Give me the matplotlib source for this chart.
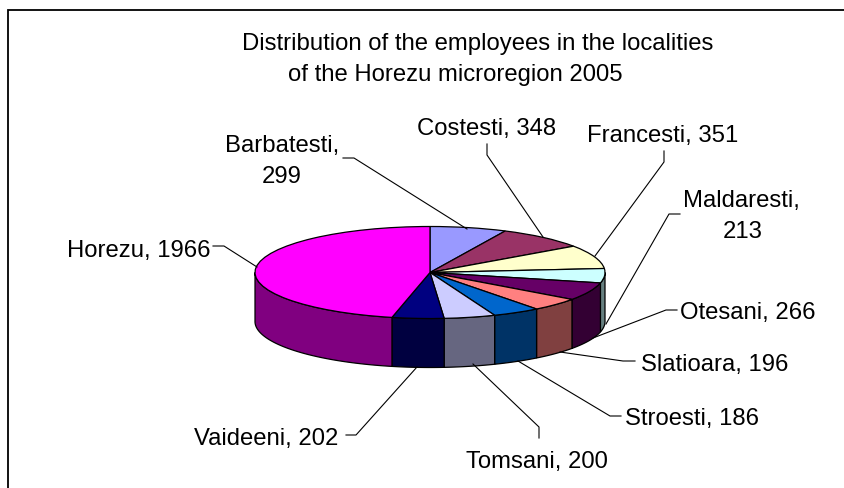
import numpy as np
import matplotlib
matplotlib.use("Agg")
import matplotlib.pyplot as plt

plt.rcParams['font.family'] = ['Liberation Sans', 'DejaVu Sans']

names = ["Barbatesti", "Costesti", "Francesti", "Maldaresti", "Otesani",
         "Slatioara", "Stroesti", "Tomsani", "Vaideeni", "Horezu"]
values = [299, 348, 351, 213, 266, 196, 186, 200, 202, 1966]
top_colors = ["#9999FF", "#993366", "#FFFFCC", "#CCFFFF", "#660066",
              "#FF8080", "#0066CC", "#CCCCFF", "#000080", "#FF00FF"]
side_colors = ["#4C4C80", "#4C1933", "#808066", "#668080", "#330033",
               "#804040", "#003366", "#666680", "#000040", "#800080"]
title_lines = ["Distribution of the employees in the localities",
               "of the Horezu microregion 2005"]

W, H = 844, 489
CX, CY, RX, RY, DEPTH = 430, 273.5, 175, 46, 49
FS = 17.2

fig = plt.figure(figsize=(W / 100, H / 100), dpi=100, facecolor="white")

# pie axes: unit disc in data coordinates, squashed by the axes limits
ax = fig.add_axes([0, 0, 1, 1])
ax.pie(values, colors=top_colors, startangle=90, counterclock=False, radius=1,
       wedgeprops=dict(edgecolor="black", linewidth=0.9))
ax.set_aspect("auto")
ax.set_xlim(-CX / RX, (W - CX) / RX)
ax.set_ylim(-(H - CY) / RY, CY / RY)

# side walls of the front half, from the same values
edges = np.cumsum([0] + values) / sum(values) * 360
d = DEPTH / RY
for i in range(len(values)):
    a0, a1 = max(edges[i], 90), min(edges[i + 1], 270)
    if a1 <= a0:
        continue
    t = np.radians(np.linspace(a0, a1, 80))
    x, y = np.sin(t), np.cos(t)
    ax.fill(np.r_[x, x[::-1]], np.r_[y, y[::-1] - d], facecolor=side_colors[i],
            edgecolor="black", linewidth=0.9, zorder=0.5)

# overlay in pixel coordinates for frame, labels and leader lines
ov = fig.add_axes([0, 0, 1, 1], facecolor="none")
ov.set_xlim(0, W)
ov.set_ylim(H, 0)
ov.axis("off")

ov.plot([7.5, 7.5, W], [H, 10.5, 10.5], color="black", lw=1.3, clip_on=False,
        solid_joinstyle="miter")

ov.text(242, 50, title_lines[0], fontsize=FS, va="baseline", ha="left", color="black")
ov.text(288, 81, title_lines[1], fontsize=FS, va="baseline", ha="left", color="black")

label_layout = {
    "Barbatesti": dict(line1=(225, 152), line2=(282, 183)),
    "Costesti": dict(line1=(417, 135)),
    "Francesti": dict(line1=(587, 142)),
    "Maldaresti": dict(line1=(683, 207), line2=(743, 238)),
    "Otesani": dict(line1=(680, 319)),
    "Slatioara": dict(line1=(641, 371)),
    "Stroesti": dict(line1=(625, 425)),
    "Tomsani": dict(line1=(466, 468)),
    "Vaideeni": dict(line1=(194, 445)),
    "Horezu": dict(line1=(67, 257)),
}
leaders = {
    "Barbatesti": [(343, 159), (354, 159), (467, 230)],
    "Costesti": [(487, 145), (487, 156), (543, 238)],
    "Francesti": [(664, 152), (664, 163), (595, 257)],
    "Maldaresti": [(680, 215), (669, 215), (606, 325)],
    "Otesani": [(677, 311), (666, 311), (593, 339)],
    "Slatioara": [(635, 362), (623, 362), (560, 353)],
    "Stroesti": [(621, 417), (610, 417), (518, 362)],
    "Tomsani": [(539, 439), (539, 428), (473, 365)],
    "Vaideeni": [(346, 436), (356, 436), (417, 368)],
    "Horezu": [(213, 247), (224, 247), (257, 268)],
}
for name, value in zip(names, values):
    pts = np.array(leaders[name])
    ov.plot(pts[:, 0], pts[:, 1], color="black", lw=0.8)
    lay = label_layout[name]
    if "line2" in lay:
        ov.text(*lay["line1"], f"{name},", fontsize=FS, ha="left", va="baseline", color="black")
        ov.text(*lay["line2"], f"{value}", fontsize=FS, ha="center", va="baseline", color="black")
    else:
        ov.text(*lay["line1"], f"{name}, {value}", fontsize=FS, ha="left", va="baseline", color="black")

fig.savefig("out.png", dpi=100)
